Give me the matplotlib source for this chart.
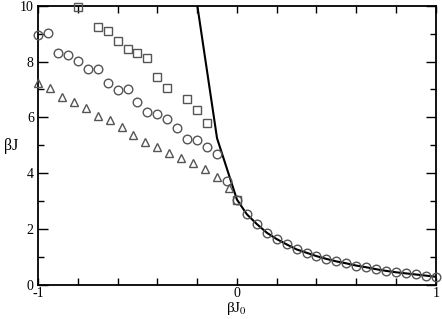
import matplotlib
matplotlib.use('Agg')
import matplotlib.pyplot as plt
from matplotlib.ticker import MultipleLocator, FixedLocator
import numpy as np

plt.rcParams['font.family'] = ['Liberation Serif', 'DejaVu Serif']
plt.rcParams['mathtext.fontset'] = 'stix'

# circles (every 0.05 from -1 to 1)
circ_x = [-1.0, -0.95, -0.9, -0.85, -0.8, -0.75, -0.7, -0.65, -0.6, -0.55,
          -0.5, -0.45, -0.4, -0.35, -0.3, -0.25, -0.2, -0.15, -0.1, -0.05,
          0.0, 0.05, 0.1, 0.15, 0.2, 0.25, 0.3, 0.35, 0.4, 0.45,
          0.5, 0.55, 0.6, 0.65, 0.7, 0.75, 0.8, 0.85, 0.9, 0.95, 1.0]
circ_y = [8.96, 9.02, 8.32, 8.23, 8.02, 7.72, 7.72, 7.22, 6.96, 7.02,
          6.53, 6.19, 6.12, 5.93, 5.63, 5.23, 5.19, 4.92, 4.69, 3.72,
          3.05, 2.52, 2.17, 1.86, 1.63, 1.44, 1.26, 1.14, 1.02, 0.92,
          0.83, 0.76, 0.68, 0.62, 0.55, 0.48, 0.44, 0.40, 0.37, 0.32, 0.28]

# squares
sq_x = [-0.8, -0.7, -0.65, -0.6, -0.55, -0.5, -0.45, -0.4, -0.35, -0.25, -0.2, -0.15, 0.0]
sq_y = [9.95, 9.23, 9.11, 8.74, 8.44, 8.32, 8.12, 7.45, 7.06, 6.65, 6.25, 5.81, 3.05]

# triangles
tri_x = [-1.0, -0.94, -0.88, -0.82, -0.76, -0.70, -0.64, -0.58, -0.52,
         -0.46, -0.40, -0.34, -0.28, -0.22, -0.16, -0.10, -0.04]
tri_y = [7.24, 7.04, 6.73, 6.56, 6.34, 6.06, 5.90, 5.64, 5.37,
         5.13, 4.95, 4.71, 4.53, 4.35, 4.15, 3.87, 3.45]

# solid curve
line_x = [-0.2, -0.1, 0.0, 0.05, 0.1, 0.15, 0.2, 0.25, 0.3, 0.35, 0.4, 0.45,
          0.5, 0.55, 0.6, 0.65, 0.7, 0.75, 0.8, 0.85, 0.9, 0.95, 1.0]
line_y = [10.05, 5.25, 3.05, 2.52, 2.17, 1.86, 1.63, 1.44, 1.26, 1.14, 1.02, 0.92,
          0.83, 0.76, 0.68, 0.62, 0.55, 0.49, 0.44, 0.40, 0.36, 0.32, 0.28]

fig = plt.figure(figsize=(4.42, 3.19), dpi=100)
ax = fig.add_axes([0.086, 0.108, 0.9, 0.874])

mc = '#555555'
ax.plot(line_x, line_y, color='black', lw=1.5, zorder=3)
ax.plot(circ_x, circ_y, 'o', ms=6.2, mfc='none', mec=mc, mew=1.0, clip_on=False, zorder=4)
ax.plot(sq_x, sq_y, 's', ms=5.2, mfc='none', mec=mc, mew=1.0, clip_on=False, zorder=4)
ax.plot(tri_x, tri_y, '^', ms=5.8, mfc='none', mec=mc, mew=1.0, clip_on=False, zorder=4)

ax.set_xlim(-1, 1)
ax.set_ylim(0, 10)
ax.xaxis.set_major_locator(FixedLocator([-1, 0, 1]))
ax.xaxis.set_minor_locator(MultipleLocator(0.2))
ax.yaxis.set_major_locator(MultipleLocator(2))
ax.yaxis.set_minor_locator(MultipleLocator(1))
ax.set_xticklabels(['-1', '0', '1'])

ax.tick_params(which='both', direction='in', top=True, right=True, labelsize=10)
ax.tick_params(axis='y', which='major', length=7, width=1, pad=3)
ax.tick_params(axis='y', which='minor', length=4, width=1)
ax.tick_params(axis='x', which='both', length=5, width=1, pad=2)
for s in ax.spines.values():
    s.set_linewidth(1.3)

ax.set_xlabel('βJ$_0$', fontsize=11, labelpad=0)
ax.set_ylabel('βJ', fontsize=11.5, rotation=0, labelpad=4)
ax.yaxis.set_label_coords(-0.068, 0.47)

fig.savefig('out.png', dpi=100)
